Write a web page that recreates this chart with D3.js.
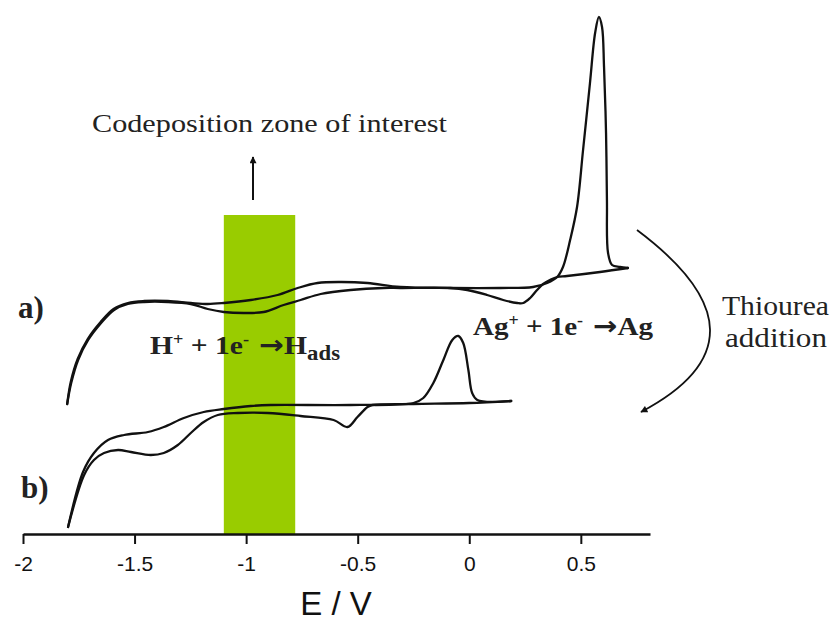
<!DOCTYPE html>
<html>
<head>
<meta charset="utf-8">
<script src="https://cdn.jsdelivr.net/npm/d3@7"></script>
<style>
  body { margin: 0; background: #fff; }
  svg { display: block; }
</style>
</head>
<body>
<div class="chart__container"></div>
<script>
//chart size
const CHART__WIDTH = 834;
const CHART__HEIGHT = 622;

//potential axis
const E_TICKS = [-2, -1.5, -1, -0.5, 0, 0.5];
const E_DOMAIN = [-2, 0.81];

//codeposition zone (V) and its top (current, a.u.)
const ZONE_E = [-1.1, -0.78];
const ZONE_TOP = 31.9;

//curve a) Ag deposition, [E (V), j (a.u., offset)]
const CURVE_A_CATHODIC = [
    [0.711, 26.6], [0.586, 26.2], [0.438, 25.8], [0.394, 25.7], [0.362, 25.4], [0.331, 25.0],
    [0.304, 24.4], [0.273, 23.6], [0.242, 23.1], [0.215, 23.1], [0.152, 23.4], [0.080, 23.9],
    [-0.009, 24.4], [-0.085, 24.6], [-0.309, 24.6], [-0.385, 24.6], [-0.532, 24.4], [-0.666, 24.0],
    [-0.756, 23.4], [-0.832, 22.9], [-0.921, 22.2], [-1.011, 22.1], [-1.100, 22.2], [-1.172, 22.5],
    [-1.248, 23.0], [-1.351, 23.2], [-1.458, 23.2], [-1.530, 23.0], [-1.592, 22.4], [-1.650, 21.1],
    [-1.708, 19.4], [-1.753, 17.4], [-1.784, 15.1], [-1.802, 13.0]
];
const CURVE_A_ANODIC = [
    [-1.802, 13.0], [-1.786, 15.2], [-1.755, 17.5], [-1.710, 19.5], [-1.652, 21.2], [-1.594, 22.5],
    [-1.530, 23.1], [-1.458, 23.3], [-1.351, 23.3], [-1.248, 23.1], [-1.172, 23.0], [-1.100, 23.1],
    [-0.979, 23.4], [-0.859, 23.9], [-0.769, 24.6], [-0.680, 25.1], [-0.577, 25.2], [-0.456, 25.1],
    [-0.309, 24.7], [-0.085, 24.6], [0.139, 24.6], [0.286, 24.7], [0.349, 25.1], [0.394, 25.7],
    [0.420, 26.7], [0.452, 29.4], [0.483, 32.7], [0.510, 38.4], [0.541, 45.1], [0.564, 50.1],
    [0.581, 51.7], [0.595, 50.7], [0.604, 46.7], [0.613, 40.1], [0.617, 33.4], [0.622, 28.1],
    [0.640, 26.9], [0.675, 26.7], [0.711, 26.6]
];

//curve b) after thiourea addition
const CURVE_B_CATHODIC = [
    [0.188, 13.3], [0.0, 13.1], [-0.25, 13.0], [-0.434, 12.9], [-0.456, 12.7], [-0.501, 11.7],
    [-0.546, 10.7], [-0.608, 11.4], [-0.756, 11.8], [-0.903, 12.1], [-1.038, 12.1], [-1.127, 11.9],
    [-1.190, 11.2], [-1.248, 10.1], [-1.306, 8.9], [-1.369, 8.1], [-1.427, 7.9], [-1.516, 8.2],
    [-1.574, 8.4], [-1.637, 8.1], [-1.682, 7.4], [-1.726, 5.9], [-1.798, 0.7]
];
const CURVE_B_ANODIC = [
    [-1.798, 0.7], [-1.731, 6.2], [-1.682, 8.1], [-1.619, 9.4], [-1.547, 9.9], [-1.440, 10.2],
    [-1.369, 10.7], [-1.279, 11.6], [-1.190, 12.2], [-1.100, 12.5], [-0.979, 12.8], [-0.890, 12.9],
    [-0.532, 12.9], [-0.250, 13.1], [-0.206, 13.6], [-0.161, 15.1], [-0.116, 17.4], [-0.076, 19.4],
    [-0.049, 19.8], [-0.027, 19.1], [-0.004, 16.4], [0.013, 14.1], [0.036, 13.4], [0.188, 13.3]
];

/*-----------------------------------scales-----------------------------------*/

const xScale = d3.scaleLinear().domain(E_DOMAIN).range([23, 650]);
const yScale = d3.scaleLinear().domain([0, 52]).range([534, 14]);

const svg = d3.select(".chart__container").append("svg")
    .attr("width", CHART__WIDTH)
    .attr("height", CHART__HEIGHT);

const defs = svg.append("defs");
defs.append("marker")
    .attr("id", "head")
    .attr("viewBox", "0 0 10 10")
    .attr("refX", 9).attr("refY", 5)
    .attr("markerWidth", 9).attr("markerHeight", 7)
    .attr("markerUnits", "userSpaceOnUse")
    .attr("orient", "auto")
    .append("path")
    .attr("d", "M0,0 L10,5 L0,10 z")
    .attr("fill", "#111");

//green zone
svg.append("rect")
    .attr("x", xScale(ZONE_E[0]))
    .attr("width", xScale(ZONE_E[1]) - xScale(ZONE_E[0]))
    .attr("y", yScale(ZONE_TOP))
    .attr("height", yScale(0) - yScale(ZONE_TOP))
    .attr("fill", "#99cc00");

//curves
const line = d3.line()
    .x(d => xScale(d[0]))
    .y(d => yScale(d[1]))
    .curve(d3.curveCatmullRom.alpha(0.5));

[CURVE_A_CATHODIC, CURVE_A_ANODIC, CURVE_B_CATHODIC, CURVE_B_ANODIC].forEach(c => {
    svg.append("path")
        .datum(c)
        .attr("d", line)
        .attr("fill", "none")
        .attr("stroke", "#111")
        .attr("stroke-width", 2.3)
        .attr("stroke-linejoin", "round")
        .attr("stroke-linecap", "round");
});

//x-axis
const abscissa = d3.axisBottom(xScale)
    .tickValues(E_TICKS)
    .tickFormat(d => String(d))
    .tickSize(10)
    .tickSizeOuter(0);

const xAxis = svg.append("g")
    .attr("transform", `translate(0,${yScale(0)})`)
    .call(abscissa);

xAxis.select(".domain").attr("stroke", "#111").attr("stroke-width", 2.5);
xAxis.selectAll(".tick line").attr("stroke", "#111").attr("stroke-width", 2);
xAxis.selectAll(".tick text")
    .attr("y", 22)
    .attr("dy", "0.71em")
    .attr("fill", "#111")
    .style("font-family", "'Liberation Sans', Arial, sans-serif")
    .style("font-size", "21px");

svg.append("text")
    .attr("x", 336).attr("y", 615)
    .attr("text-anchor", "middle")
    .style("font-family", "'Liberation Sans', Arial, sans-serif")
    .style("font-size", "33px")
    .attr("fill", "#111")
    .text("E / V");

/*-----------------------------------annotations-----------------------------------*/

const serif = "'Liberation Serif', serif";

const label = (x, y, len, size, txt) => svg.append("text")
    .attr("x", x).attr("y", y)
    .attr("textLength", len)
    .attr("lengthAdjust", "spacingAndGlyphs")
    .style("font-family", serif)
    .style("font-size", size + "px")
    .attr("fill", "#222")
    .text(txt);

label(92, 132, 355, 26, "Codeposition zone of interest");
label(722, 315, 107, 27, "Thiourea");
label(725, 347, 102, 27, "addition");

svg.append("line")
    .attr("x1", 253).attr("y1", 200)
    .attr("x2", 253).attr("y2", 157)
    .attr("stroke", "#111").attr("stroke-width", 2)
    .attr("marker-end", "url(#head)");

const bold = (x, y, txt) => svg.append("text")
    .attr("x", x).attr("y", y)
    .style("font-family", serif)
    .style("font-size", "31px")
    .style("font-weight", "bold")
    .attr("fill", "#222")
    .text(txt);

bold(18, 318, "a)");
bold(21, 498, "b)");

const reaction = (x, y, len, ion, product, sub) => {
    const t = svg.append("text")
        .attr("x", x).attr("y", y)
        .attr("textLength", len)
        .attr("lengthAdjust", "spacingAndGlyphs")
        .style("font-family", serif)
        .style("font-size", "26px")
        .style("font-weight", "bold")
        .attr("fill", "#222");
    t.append("tspan").text(ion);
    t.append("tspan").attr("dy", -9).style("font-size", "16px").text("+");
    t.append("tspan").attr("dy", 9).text(" + 1e");
    t.append("tspan").attr("dy", -9).style("font-size", "16px").text("-");
    t.append("tspan").attr("dy", 9)
        .style("font-family", "'DejaVu Sans', sans-serif")
        .style("font-size", "26px")
        .text(" \u2192");
    t.append("tspan").text(product);
    if (sub) t.append("tspan").attr("dy", 6).style("font-size", "20px").text(sub);
};

reaction(150, 354, 190, "H", "H", "ads");
reaction(473, 335, 180, "Ag", "Ag", null);

svg.append("path")
    .attr("d", "M637,230 Q781,338 641,412")
    .attr("fill", "none")
    .attr("stroke", "#111")
    .attr("stroke-width", 1.8)
    .attr("marker-end", "url(#head)");
</script>
</body>
</html>
